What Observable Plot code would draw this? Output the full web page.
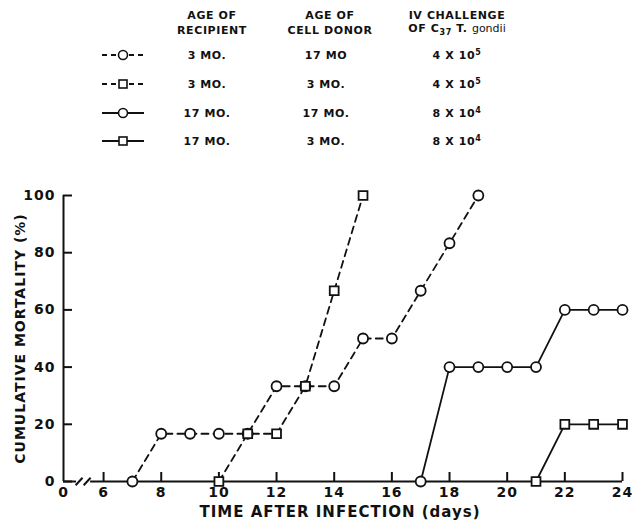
<!DOCTYPE html>
<html>
<head>
<meta charset="utf-8">
<script src="https://cdn.jsdelivr.net/npm/d3@7"></script>
<script src="https://cdn.jsdelivr.net/npm/@observablehq/plot@0.6"></script>
<style>
  body { margin: 0; background: #fff; font-family: "DejaVu Sans", sans-serif; }
  #legend { position: relative; width: 632px; height: 160px; color: #111; font-weight: bold; font-size: 11px; letter-spacing: 0.6px; }
  #legend .t { position: absolute; transform: translate(-50%, -50%); white-space: nowrap; line-height: 1; }
  #legend sup { font-size: 8px; vertical-align: 4px; }
  #legend sub { font-size: 8px; vertical-align: -3px; }
  #legend svg { position: absolute; }
</style>
</head>
<body>
<div id="legend"></div>
<div id="chart"></div>
<script>
// ---- data ----
const days1 = [7, 8, 9, 10, 11, 12, 13, 14, 15, 16, 17, 18, 19];
const mort1 = [0, 16.7, 16.7, 16.7, 16.7, 33.3, 33.3, 33.3, 50, 50, 66.7, 83.3, 100];
const days2 = [10, 11, 12, 13, 14, 15];
const mort2 = [0, 16.7, 16.7, 33.3, 66.7, 100];
const days3 = [17, 18, 19, 20, 21, 22, 23, 24];
const mort3 = [0, 40, 40, 40, 40, 60, 60, 60];
const days4 = [21, 22, 23, 24];
const mort4 = [0, 20, 20, 20];

const recipientAge = ["3 MO.", "3 MO.", "17 MO.", "17 MO."];
const donorAge = ["17 MO", "3 MO.", "17 MO.", "3 MO."];
const challengeBase = ["4 X 10", "4 X 10", "8 X 10", "8 X 10"];
const challengeExp = ["5", "5", "4", "4"];
const seriesDash = [true, true, false, false];
const seriesSymbol = ["circle", "square", "circle", "square"];

const xTicks = [6, 8, 10, 12, 14, 16, 18, 20, 22, 24];
const yTicks = [0, 20, 40, 60, 80, 100];
const xOriginLabel = "0";

// ---- legend ----
const legend = document.getElementById("legend");
function addText(html, x, y) {
  const s = document.createElement("span");
  s.className = "t";
  s.innerHTML = html;
  s.style.left = x + "px";
  s.style.top = y + "px";
  legend.appendChild(s);
}
addText("AGE OF", 212, 15);
addText("RECIPIENT", 212, 30);
addText("AGE OF", 330, 15);
addText("CELL DONOR", 330, 30);
addText("IV CHALLENGE", 457, 15);
addText("OF C<sub>37</sub> T. <span style='font-weight:normal;letter-spacing:0'>gondii</span>", 457, 30);
const rowY = [55, 84, 113, 141];
recipientAge.forEach((r, i) => {
  addText(r, 207, rowY[i]);
  addText(donorAge[i], 326, rowY[i]);
  addText(challengeBase[i] + "<sup>" + challengeExp[i] + "</sup>", 457, rowY[i]);
  const svg = d3.select(legend).append("svg")
    .attr("width", 46).attr("height", 16)
    .style("left", "100px").style("top", (rowY[i] - 8) + "px");
  svg.append("line").attr("x1", 2).attr("x2", 44).attr("y1", 8).attr("y2", 8)
    .attr("stroke", "#111").attr("stroke-width", 1.8)
    .attr("stroke-dasharray", seriesDash[i] ? "5,4" : null);
  if (seriesSymbol[i] === "circle") {
    svg.append("circle").attr("cx", 23).attr("cy", 8).attr("r", 4.5)
      .attr("fill", "#fff").attr("stroke", "#111").attr("stroke-width", 1.6);
  } else {
    svg.append("rect").attr("x", 19).attr("y", 4).attr("width", 8).attr("height", 8)
      .attr("fill", "#fff").attr("stroke", "#111").attr("stroke-width", 1.6);
  }
});

// ---- chart ----
const series = [
  {days: days1, mort: mort1},
  {days: days2, mort: mort2},
  {days: days3, mort: mort3},
  {days: days4, mort: mort4}
];
const rows = series.map((s, k) => s.days.map((d, i) => ({day: d, mort: s.mort[i], k})));

const xMin = 4.61;
const ink = "#111";
const marks = [];

// axes lines with break
marks.push(Plot.ruleX([xMin], {y1: 0, y2: 100, stroke: ink, strokeWidth: 2}));
marks.push(Plot.ruleY([0], {x1: xMin, x2: 5.06, stroke: ink, strokeWidth: 2}));
marks.push(Plot.ruleY([0], {x1: 5.55, x2: 24, stroke: ink, strokeWidth: 2}));
marks.push(Plot.link([5.15, 5.43], {x1: d => d - 0.12, x2: d => d + 0.12, y1: -1.3, y2: 1.3, stroke: ink, strokeWidth: 2}));

// inward ticks
marks.push(Plot.ruleX(xTicks, {x: d => d, y1: 0, y2: 0, insetTop: -9, stroke: ink, strokeWidth: 2}));
marks.push(Plot.ruleY(yTicks, {y: d => d, x1: xMin, x2: xMin, insetRight: -9, stroke: ink, strokeWidth: 2}));

marks.push(Plot.axisX([xMin, ...xTicks], {tickSize: 0, tickPadding: 6, label: null,
  tickFormat: d => d === xMin ? xOriginLabel : String(d)}));
marks.push(Plot.axisY(yTicks, {tickSize: 0, tickPadding: 8, label: null}));

marks.push(Plot.text(["CUMULATIVE MORTALITY (%)"], {frameAnchor: "left", textAnchor: "middle", lineAnchor: "middle", rotate: -90, dx: -43, fontSize: 14, fill: ink}));
marks.push(Plot.text(["TIME AFTER INFECTION (days)"], {frameAnchor: "bottom", textAnchor: "middle", lineAnchor: "middle", dy: 31, dx: -3, fontSize: 15, fill: ink}));

rows.forEach((r, k) => {
  marks.push(Plot.line(r, {x: "day", y: "mort", stroke: ink, strokeWidth: 1.8,
    strokeDasharray: seriesDash[k] ? "7,5" : null}));
});
rows.forEach((r, k) => {
  marks.push(Plot.dot(r, {x: "day", y: "mort", r: 5, symbol: seriesSymbol[k], fill: "white", stroke: ink, strokeWidth: 1.8}));
});

const chart = Plot.plot({
  width: 632,
  height: 361,
  marginTop: 35,
  marginBottom: 40,
  marginLeft: 63,
  marginRight: 10,
  x: {domain: [xMin, 24]},
  y: {domain: [0, 100]},
  style: {fontFamily: "DejaVu Sans, sans-serif", fontSize: "14px", fontWeight: "bold", color: ink, background: "white", letterSpacing: "1px"},
  marks
});
document.getElementById("chart").appendChild(chart);
</script>
</body>
</html>
